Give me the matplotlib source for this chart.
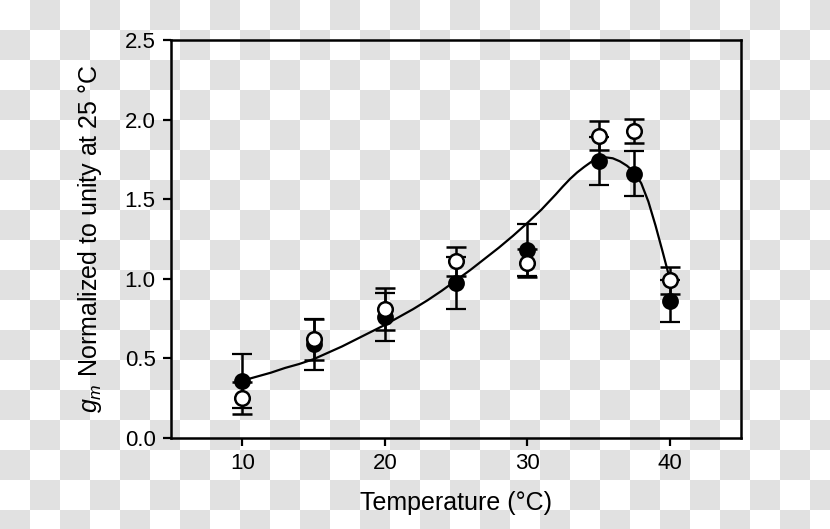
import numpy as np
from matplotlib import pyplot as plt
from matplotlib.colors import ListedColormap

plt.rcParams['font.family'] = ['Liberation Sans', 'DejaVu Sans']
plt.rcParams['mathtext.fontset'] = 'custom'
plt.rcParams['mathtext.it'] = 'Liberation Sans:italic'
plt.rcParams['mathtext.rm'] = 'Liberation Sans'

# measured points
temps = [10, 15, 20, 25, 30, 35, 37.5, 40]
filled_vals = [0.36, 0.59, 0.76, 0.975, 1.18, 1.74, 1.66, 0.86]
filled_err = [0.17, 0.16, 0.15, 0.165, 0.165, 0.15, 0.14, 0.13]
open_vals = [0.25, 0.62, 0.81, 1.11, 1.10, 1.90, 1.93, 0.99]
open_err = [0.10, 0.13, 0.13, 0.09, 0.09, 0.09, 0.075, 0.085]

# fitted curve
curve_t = [10, 11, 12, 13, 14, 15, 16, 17, 18, 19, 20, 21, 22, 23, 24, 25, 26, 27, 28, 29,
           30, 31, 32, 32.5, 33, 33.5, 34, 34.5, 35, 35.5, 36, 36.5, 37, 37.5, 38, 38.5,
           39, 39.5, 40]
curve_y = [0.36, 0.385, 0.41, 0.44, 0.465, 0.495, 0.535, 0.575, 0.62, 0.665, 0.71, 0.76,
           0.81, 0.865, 0.925, 0.99, 1.055, 1.125, 1.195, 1.27, 1.35, 1.435, 1.53, 1.58,
           1.627, 1.668, 1.703, 1.735, 1.755, 1.763, 1.757, 1.738, 1.71, 1.67, 1.60,
           1.485, 1.335, 1.17, 1.0]

W, H = 830, 529
fig = plt.figure(figsize=(W / 100, H / 100), dpi=100)

# checkerboard backdrop of the reference image
bg = fig.add_axes([0, 0, 1, 1], zorder=0)
sq = 30
nr, nc = H // sq + 1, W // sq + 1
board = np.indices((nr, nc)).sum(axis=0) % 2
bg.imshow(board, cmap=ListedColormap(['white', '#e1e1e1']), interpolation='nearest',
          extent=(0, nc * sq, nr * sq, 0))
bg.set_xlim(0, W)
bg.set_ylim(H, 0)
bg.axis('off')

ax = fig.add_axes([171 / W, 1 - 438 / H, (741 - 171) / W, (438 - 40) / H], zorder=1)
ax.set_facecolor('none')

ax.plot(curve_t, curve_y, color='black', lw=1.6, zorder=2)
ax.errorbar(temps, filled_vals, yerr=filled_err, fmt='o', color='black', ms=10.5,
            mfc='black', mec='black', mew=1.6, elinewidth=1.8, capsize=7.5, capthick=1.8,
            zorder=3)
ax.errorbar(temps, open_vals, yerr=open_err, fmt='o', color='black', ms=10.5,
            mfc='white', mec='black', mew=1.8, elinewidth=1.8, capsize=7.5, capthick=1.8,
            zorder=4)

ax.set_xlim(5, 45)
ax.set_ylim(0, 2.5)
ax.set_xticks([10, 20, 30, 40])
ax.set_yticks([0.0, 0.5, 1.0, 1.5, 2.0, 2.5])
ax.set_yticklabels(['0.0', '0.5', '1.0', '1.5', '2.0', '2.5'])
ax.tick_params(direction='out', length=6, width=1.6, labelsize=16, pad=5)
for s in ax.spines.values():
    s.set_linewidth(1.8)

ax.set_xlabel('Temperature (°C)', fontsize=18, labelpad=12)
ax.set_ylabel('$g_m$ Normalized to unity at 25 °C', fontsize=18, labelpad=15)

fig.savefig('out.png', dpi=100)
